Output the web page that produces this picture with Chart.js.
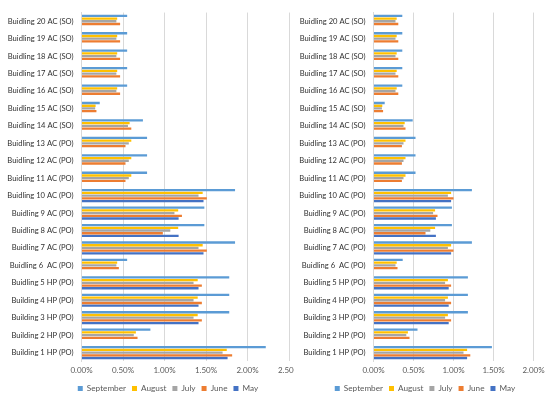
<!DOCTYPE html>
<html>
<head>
<meta charset="utf-8">
<script src="https://cdn.jsdelivr.net/npm/chart.js@4/dist/chart.umd.min.js"></script>
<style>
  html, body { margin: 0; padding: 0; background: #fff; }
  body { width: 550px; height: 399px; position: relative; overflow: hidden; }
  #leftBox { position: absolute; left: 0; top: 0; width: 336px; height: 399px; }
  #rightBox { position: absolute; left: 294px; top: 0; width: 262px; height: 399px; background: #fff; }
</style>
</head>
<body>
<div id="leftBox"><canvas id="leftChart"></canvas></div>
<div id="rightBox"><canvas id="rightChart"></canvas></div>
<script>
const buildings = [
  "Buidling 20 AC (SO)", "Buidling 19 AC (SO)", "Buidling 18 AC (SO)", "Buidling 17 AC (SO)",
  "Buidling 16 AC (SO)", "Buidling 15 AC (SO)", "Buidling 14 AC (SO)", "Buidling 13 AC (PO)",
  "Buidling 12 AC (PO)", "Buidling 11 AC (PO)", "Buidling 10 AC (PO)", "Buidling 9 AC (PO)",
  "Buidling 8 AC (PO)", "Buidling 7 AC (PO)", "Buidling 6  AC (PO)", "Buidling 5 HP (PO)",
  "Building 4 HP (PO)", "Building 3 HP (PO)", "Building 2 HP (PO)", "Building 1 HP (PO)"
];

const months = ["September", "August", "July", "June", "May"];
const monthColors = ["#5B9BD5", "#FFC000", "#A5A5A5", "#ED7D31", "#4472C4"];

// left panel (%)
const leftSeptember = [0.55, 0.55, 0.55, 0.55, 0.55, 0.22, 0.74, 0.79, 0.79, 0.79, 1.85, 1.48, 1.48, 1.85, 0.55, 1.78, 1.78, 1.78, 0.83, 2.22];
const leftAugust = [0.43, 0.43, 0.43, 0.43, 0.43, 0.17, 0.58, 0.60, 0.60, 0.60, 1.46, 1.165, 1.165, 1.46, 0.43, 1.40, 1.40, 1.40, 0.655, 1.75];
const leftJuly = [0.42, 0.42, 0.42, 0.42, 0.42, 0.165, 0.56, 0.57, 0.57, 0.57, 1.41, 1.12, 1.07, 1.41, 0.42, 1.35, 1.35, 1.35, 0.63, 1.70];
const leftJune = [0.465, 0.465, 0.465, 0.465, 0.465, 0.18, 0.60, 0.53, 0.53, 0.53, 1.51, 1.21, 0.98, 1.51, 0.45, 1.45, 1.45, 1.45, 0.675, 1.815];
const leftMay = [null, null, null, null, null, null, null, null, null, null, 1.47, 1.17, 1.17, 1.47, null, 1.41, 1.41, 1.41, null, 1.76];
const leftTicksMax = 2.5;

// right panel (%)
const rightSeptember = [0.36, 0.36, 0.36, 0.36, 0.36, 0.14, 0.49, 0.525, 0.525, 0.525, 1.23, 0.98, 0.98, 1.23, 0.365, 1.18, 1.18, 1.18, 0.55, 1.48];
const rightAugust = [0.29, 0.29, 0.29, 0.29, 0.29, 0.11, 0.39, 0.40, 0.40, 0.40, 0.97, 0.77, 0.77, 0.97, 0.29, 0.93, 0.93, 0.93, 0.43, 1.17];
const rightJuly = [0.275, 0.275, 0.275, 0.275, 0.275, 0.105, 0.375, 0.375, 0.375, 0.375, 0.93, 0.745, 0.71, 0.93, 0.275, 0.895, 0.895, 0.895, 0.41, 1.125];
const rightJune = [0.31, 0.31, 0.31, 0.31, 0.31, 0.12, 0.40, 0.355, 0.355, 0.355, 1.00, 0.80, 0.65, 1.00, 0.30, 0.97, 0.97, 0.97, 0.45, 1.21];
const rightMay = [null, null, null, null, null, null, null, null, null, null, 0.97, 0.78, 0.78, 0.97, null, 0.94, 0.94, 0.94, null, 1.17];
const rightTicksMax = 2.0;

const FONT = "Lato, 'Open Sans', sans-serif";
const GREY_TEXT = "#595959";
const GRID = "#d9d9d9";

function makeChart(id, series, max, yWidth, rightPad) {
  const ctx = document.getElementById(id).getContext("2d");
  return new Chart(ctx, {
    type: "bar",
    data: {
      labels: buildings,
      datasets: series.map((data, i) => ({
        label: months[i],
        data: data,
        backgroundColor: monthColors[i],
        borderWidth: 0,
        barPercentage: 0.85,
        categoryPercentage: 0.78,
      })),
    },
    options: {
      indexAxis: "y",
      responsive: true,
      maintainAspectRatio: false,
      animation: false,
      layout: { padding: { top: 7, bottom: -3.5, left: 0, right: 0 } },
      plugins: {
        tooltip: { enabled: false },
        legend: {
          position: "bottom",
          labels: {
            boxWidth: 5,
            boxHeight: 5,
            padding: 6,
            color: GREY_TEXT,
            font: { family: FONT, size: 8.2 },
          },
        },
      },
      scales: {
        x: {
          min: 0,
          max: max,
          ticks: {
            stepSize: 0.5,
            padding: 4,
            color: GREY_TEXT,
            font: { family: FONT, size: 8 },
            maxRotation: 0,
            callback: (v) => v.toFixed(2) + "%",
          },
          grid: { color: GRID, drawTicks: false },
          border: { display: false },
          afterFit: (scale) => {
            scale.height = 17;
            scale.paddingRight = rightPad;
            scale.paddingLeft = 0;
          },
        },
        y: {
          ticks: {
            padding: 8,
            color: "#303030",
            font: { family: FONT, size: 7.6 },
            autoSkip: false,
          },
          grid: { display: false, drawTicks: false },
          border: { display: true, color: GRID },
          afterFit: (scale) => {
            scale.width = yWidth;
          },
        },
      },
    },
  });
}

makeChart("leftChart", [leftSeptember, leftAugust, leftJuly, leftJune, leftMay], leftTicksMax, 81.5, 47);
makeChart("rightChart", [rightSeptember, rightAugust, rightJuly, rightJune, rightMay], rightTicksMax, 79.5, 22.5);
</script>
</body>
</html>
